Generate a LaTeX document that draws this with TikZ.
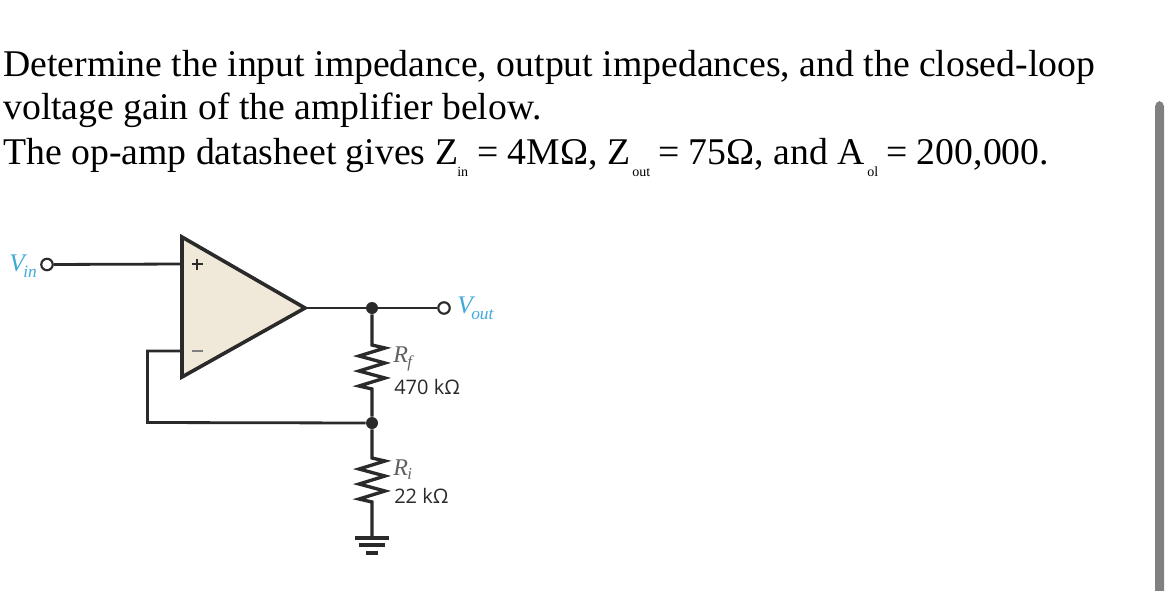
\documentclass[tikz,border=0pt]{standalone}
\usepackage{fontspec}
\setmainfont{Liberation Serif}
\newfontfamily\labelfont{Open Sans}
\definecolor{ampfill}{HTML}{F0E8D8}
\definecolor{wirecol}{HTML}{2A2A2A}
\definecolor{signal}{HTML}{3FA9DC}
\definecolor{barcol}{HTML}{808080}
\tikzset{
  wire/.style={draw=wirecol,line width=2.5pt,line join=miter},
  thinwire/.style={draw=wirecol,line width=2.1pt},
  term/.style={circle,draw=wirecol,fill=white,line width=1.6pt,minimum size=8.6pt,inner sep=0pt},
  jn/.style={circle,fill=wirecol,minimum size=9pt,inner sep=0pt},
  txt/.style={anchor=base west,inner sep=0pt,font=\fontsize{28.3pt}{28.3pt}\selectfont},
  sub/.style={anchor=base west,inner sep=0pt,font=\fontsize{10.5pt}{10.5pt}\selectfont},
  val/.style={anchor=base west,inner sep=0pt,text=wirecol,font=\labelfont\fontsize{15pt}{15pt}\selectfont},
  sym/.style={anchor=base west,inner sep=0pt,text=wirecol!75,font=\fontsize{18pt}{18pt}\selectfont\itshape},
  symsub/.style={anchor=base west,inner sep=0pt,text=wirecol!75,font=\fontsize{12.5pt}{12.5pt}\selectfont\itshape},
  sig/.style={anchor=base west,inner sep=0pt,text=signal,font=\fontsize{19pt}{19pt}\selectfont\itshape},
  sigsub/.style={anchor=base west,inner sep=0pt,text=signal,font=\fontsize{13pt}{13pt}\selectfont\itshape},
}
\begin{document}
\begin{tikzpicture}[x=0.75pt,y=-0.75pt]
\useasboundingbox (0,0) rectangle (1173,590);
% text
\node[txt] (l1) at (3,76) {Determine the input impedance, output impedances, and the closed-loop};
\node[txt] (l2) at (3,119) {voltage gain of the amplifier below.};
\node[txt] (l3a) at (3,164) {The op-amp datasheet gives Z};
\node[sub] (s1) at (457,176) {in};
\node[txt] (l3b) at (477,164) {= 4MΩ, Z};
\node[sub] (s2) at (632,176) {out};
\node[txt] (l3c) at (658,164) {= 75Ω, and A};
\node[sub] (s3) at (867,176) {ol};
\node[txt] (l3d) at (886,164) {= 200,000.};
% scrollbar
\fill[barcol,rounded corners=4pt] (1155,101) rectangle (1164,600);
% amp
\coordinate (ampTL) at (182,237);
\coordinate (ampBL) at (182,377);
\coordinate (ampTip) at (305,308);
\coordinate (inP) at (182,264);
\coordinate (inN) at (182,351);
\node[term] (vin) at (47,264.5) {};
\coordinate (fbA) at (147.5,351);
\coordinate (fbB) at (147.5,422.5);
\node[jn] (j1) at (372,308) {};
\node[jn] (j2) at (372,423) {};
\node[term] (vout) at (444,308) {};
\coordinate (r1t) at (372,345);
\coordinate (r1b) at (372,389);
\coordinate (r2t) at (372,458);
\coordinate (r2b) at (372,502);
\coordinate (gnd) at (372,537);
\draw[thinwire] (vin) -- (inP);
\draw[thinwire] (inN) -- (fbA) -- (fbB) -- (j2);
\draw[thinwire] (ampTip) -- (j1) -- (vout);
\draw[wire,line width=2.7pt,fill=ampfill] (ampTL) -- (ampTip) -- (ampBL) -- cycle;
\draw[wirecol,line width=1pt] (191.5,264) -- (202.5,264) (197,258.5) -- (197,269.5);
\draw[wirecol!60,line width=1pt] (191.5,351) -- (202.5,351);
% resistors
\draw[wire] (j1) -- (r1t) -- ++(13,3) -- ++(-26,8) -- ++(26,7) -- ++(-26,8) -- ++(26,7) -- ++(-26,8) -- (r1b) -- (j2);
\draw[wire] (j2) -- (r2t) -- ++(13,3) -- ++(-26,8) -- ++(26,7) -- ++(-26,8) -- ++(26,7) -- ++(-26,8) -- (r2b) -- (gnd);
% ground
\draw[draw=wirecol,line width=3pt] (355,537.5) -- (389,537.5);
\draw[draw=wirecol,line width=3pt] (359,545) -- (385,545);
\draw[draw=wirecol,line width=3pt] (366,552.5) -- (378,552.5);
% labels
\node[sig] (vinl) at (9,271) {V};
\node[sigsub] (vins) at (23,277) {in};
\node[sig] (voutl) at (457,313) {V};
\node[sigsub] (vouts) at (471,319) {out};
\node[sym] (rf) at (393,362) {R};
\node[symsub] (rfs) at (407,367) {f};
\node[val] (v1) at (394,394) {470 kΩ};
\node[sym] (ri) at (393,475) {R};
\node[symsub] (ris) at (407,479.5) {i};
\node[val] (v2) at (394,503) {22 kΩ};
\end{tikzpicture}
\end{document}
